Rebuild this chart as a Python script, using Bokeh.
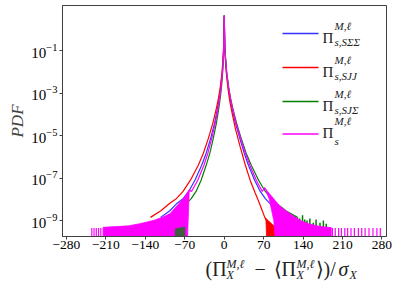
import numpy as np
from bokeh.plotting import figure
from bokeh.layouts import column
from bokeh.models import Range1d, FixedTicker, Label, BoxAnnotation
from bokeh.embed import file_html
from bokeh.resources import INLINE

# ---------------- data (y values are log10 of the PDF) ----------------
red_x  = [-131, -113, -96, -85, -73, -60, -46, -37, -28, -20, -14, -10, -7, -4, -2, -1, 0,
          1, 2, 4, 7, 10, 14, 20, 28, 37, 46, 55, 62, 67, 72, 76, 80]
red_lg = [-8.85, -8.55, -8.17, -7.97, -7.63, -7.10, -6.40, -5.83, -5.12, -4.40, -3.73, -3.21, -2.71, -2.05, -1.33, -0.80, 0.65,
          -0.85, -1.40, -2.15, -2.85, -3.40, -3.95, -4.70, -5.50, -6.35, -7.10, -7.70, -8.15, -8.50, -8.85, -9.05, -9.25]

blue_x  = [-113, -97, -83, -73, -63, -52, -40, -32, -24, -17, -12, -8.6, -6, -3.4, -1.7, -0.86, 0,
           1.05, 2.1, 4.2, 7.2, 10.2, 14, 19.8, 27.5, 35.5, 43, 54, 64, 73, 80, 95, 110]
blue_lg = [-8.85, -8.55, -8.17, -7.97, -7.63, -7.10, -6.40, -5.83, -5.12, -4.40, -3.73, -3.21, -2.71, -2.05, -1.33, -0.80, 0.65,
           -0.80, -1.33, -2.05, -2.71, -3.21, -3.73, -4.40, -5.12, -5.83, -6.40, -7.10, -7.63, -7.97, -8.17, -8.55, -8.85]

green_x  = [-71, -69, -66, -58.6, -50, -41, -32, -25.5, -19.3, -13.8, -9.7, -6.9, -4.8, -2.8, -1.4, -0.7, 0,
            1.1, 2.3, 4.5, 7.8, 11, 15.3, 21.8, 30, 39, 48, 61, 73, 84, 92, 110, 130]
green_lg = [-9.35, -8.67, -8.17, -7.97, -7.63, -7.10, -6.40, -5.83, -5.12, -4.40, -3.73, -3.21, -2.71, -2.05, -1.33, -0.80, 0.65,
            -0.80, -1.33, -2.05, -2.71, -3.21, -3.73, -4.40, -5.12, -5.83, -6.40, -7.10, -7.63, -7.97, -8.17, -8.55, -8.85]

mag_x  = [-62, -58, -47, -36, -29, -22, -15.8, -11, -7.9, -5.5, -3.2, -1.6, -0.8, 0,
          1.1, 2.2, 4.4, 7.6, 10.8, 14.8, 21, 29, 37.5, 45.5, 57, 67.5, 72]
mag_lg = [-7.55, -7.63, -7.10, -6.40, -5.83, -5.12, -4.40, -3.73, -3.21, -2.71, -2.05, -1.33, -0.80, 0.65,
          -0.80, -1.33, -2.05, -2.71, -3.21, -3.73, -4.40, -5.12, -5.83, -6.40, -7.10, -7.63, -7.45]

# noisy tails (outline of the dense histogram region)
mag_left_x  = [-62, -72, -96, -110, -126, -150, -170, -215, -215, -68, -64]
mag_left_lg = [-7.55, -7.95, -8.67, -8.85, -9.00, -9.15, -9.25, -9.32, -12.0, -12.0, -9.0]
mag_right_x  = [72, 76, 90, 100, 115, 135, 150, 170, 190, 190, 97, 88, 80]
mag_right_lg = [-7.45, -7.60, -8.05, -8.35, -8.65, -9.00, -9.15, -9.28, -9.33, -12.0, -12.0, -9.0, -8.0]
mag_spike_x  = [-235, -231, -227, -223, -219, 192, 197, 203, 208, 214, 219, 225, 231, 238, 244, 250, 257, 264, 271, 277]
spike_top_lg = -9.35

red_tail_x  = [74, 80, 86, 92, 94, 94, 78]
red_tail_lg = [-8.90, -9.05, -9.20, -9.30, -9.40, -12.0, -12.0]

green_spike_x  = [126, 130, 134, 139, 143, 147, 152, 158, 163, 170, 176, 181]
green_spike_lg = [-8.80, -8.85, -8.90, -8.75, -8.95, -9.00, -8.90, -9.10, -8.95, -9.10, -9.00, -9.15]
green_left_x  = [-87, -87, -70, -70]
green_left_lg = [-9.40, -12.0, -12.0, -9.30]

x_ticks = [-280, -210, -140, -70, 0, 70, 140, 210, 280]
x_tick_labels = ["\u2212280", "\u2212210", "\u2212140", "\u221270", "0", "70", "140", "210", "280"]
y_ticks = [1e-1, 1e-3, 1e-5, 1e-7, 1e-9]

BLUE, RED, GREEN, MAG = "#3333ff", "#ff0000", "#008000", "#ff00ff"
BOTTOM_LG = -12.0

def P(v):
    return [10.0 ** t for t in v]

SERIF = "Liberation Serif"
INK = "#222222"
W = 399
H_MAIN, H_TITLE = 256, 34
FRAME_L, FRAME_R, FRAME_T, FRAME_B = 62, 386, 5, 236

p = figure(width=W, height=H_MAIN, x_range=Range1d(-287, 288), y_range=Range1d(10 ** -9.75, 10 ** 1.12),
           y_axis_type="log", output_backend="svg", toolbar_location=None,
           min_border_left=FRAME_L, min_border_right=W - FRAME_R, min_border_top=FRAME_T,
           min_border_bottom=H_MAIN - FRAME_B)
p.grid.visible = False
p.outline_line_color = "#404040"
p.background_fill_color = "white"
p.border_fill_color = "white"

for ax in (p.xaxis[0], p.yaxis[0]):
    ax.axis_line_color = "#404040"
    ax.major_tick_line_color = "#404040"
    ax.minor_tick_line_color = None
    ax.major_tick_in = 0
    ax.major_tick_out = 3
    ax.major_label_text_font = SERIF
    ax.major_label_text_color = "black"
p.xaxis.major_label_standoff = 1
p.yaxis.major_label_standoff = 2
p.xaxis.major_label_text_font_size = "13.5px"
p.yaxis.major_label_text_font_size = "15px"

p.xaxis.ticker = FixedTicker(ticks=x_ticks)
p.xaxis.major_label_overrides = {t: l for t, l in zip(x_ticks, x_tick_labels)}
p.yaxis.ticker = FixedTicker(ticks=y_ticks)
p.yaxis.axis_label = "PDF"
p.yaxis.axis_label_text_font = SERIF
p.yaxis.axis_label_text_font_style = "italic"
p.yaxis.axis_label_text_font_size = "17px"
p.yaxis.axis_label_standoff = 1

# ---- curves ----
p.line(blue_x, P(blue_lg), line_color=BLUE, line_width=1.2)
p.line(red_x, P(red_lg), line_color=RED, line_width=1.2)
p.patch(red_tail_x, P(red_tail_lg), fill_color=RED, line_color=RED, line_width=0.8)
p.line(green_x, P(green_lg), line_color=GREEN, line_width=1.2)
p.segment(x0=green_spike_x, y0=[10.0 ** BOTTOM_LG] * len(green_spike_x), x1=green_spike_x, y1=P(green_spike_lg),
          line_color=GREEN, line_width=1.5)
p.line(mag_x, P(mag_lg), line_color=MAG, line_width=1.2)
p.patch(mag_left_x, P(mag_left_lg), fill_color=MAG, line_color=MAG, line_width=0.8)
p.patch(mag_right_x, P(mag_right_lg), fill_color=MAG, line_color=MAG, line_width=0.8)
p.segment(x0=mag_spike_x, y0=[10.0 ** BOTTOM_LG] * len(mag_spike_x), x1=mag_spike_x,
          y1=[10.0 ** spike_top_lg] * len(mag_spike_x), line_color=MAG, line_width=1.2)
p.patch(green_left_x, P(green_left_lg), fill_color="#3d5f3d", line_color="#3d5f3d", line_width=0.8)

# ---- legend (drawn by hand so sub/superscripts stay real text) ----
def sx(X):        # page x -> frame screen x
    return X - FRAME_L
def sy(Y):        # page y -> frame screen y (measured up from frame bottom)
    return FRAME_B - Y

def put(fig, txt, X, Yc, size, style, xf=sx, yf=sy):
    fig.add_layout(Label(x=xf(X), y=yf(Yc), x_units="screen", y_units="screen", text=txt,
                         text_font=SERIF, text_font_style=style, text_font_size=size,
                         text_baseline="middle", text_align="left", text_color=INK))

legend_colors = [BLUE, RED, GREEN, MAG]
legend_subs = ["s,S\u03a3\u03a3", "s,SJJ", "s,SJ\u03a3", "s"]
legend_line_y = [33, 67, 101, 133.5]
for c, sub, yl in zip(legend_colors, legend_subs, legend_line_y):
    p.add_layout(BoxAnnotation(left=sx(282), right=sx(318), top=sy(yl) + 0.7, bottom=sy(yl) - 0.7,
                               left_units="screen", right_units="screen", top_units="screen", bottom_units="screen",
                               fill_color=c, fill_alpha=1.0, line_color=None))
    short = (sub == "s")
    dy = -5.5 if short else 0.0
    put(p, "\u03a0", 322, yl + 4 + dy, "15px", "normal")
    put(p, "M,\u2113", 334, yl - 7.5 + dy, "11px", "italic")
    put(p, sub, 334, yl + 8 + (dy + 4.5 if short else 0), "11px", "italic")

# ---- x axis title in its own strip: (Π_X^{M,ℓ} − ⟨Π_X^{M,ℓ}⟩)/σ_X ----
q = figure(width=W, height=H_TITLE, x_range=Range1d(0, 1), y_range=Range1d(0, 1),
           output_backend="svg", toolbar_location=None, x_axis_location=None, y_axis_location=None,
           min_border=0)
q.grid.visible = False
q.outline_line_color = None
q.background_fill_color = "white"
q.border_fill_color = "white"

def tx(X):
    return X
def ty(Y):        # page y -> strip screen y
    return (H_MAIN + H_TITLE) - Y

MAIN_C, SUP_C, SUB_C = 268.0, 263.5, 274.5
pieces = [
    ("(\u03a0", 143, MAIN_C, "20px", "normal"),
    ("M,\u2113", 164, SUP_C, "12px", "italic"),
    ("X", 164, SUB_C, "12px", "italic"),
    ("\u2212", 192, MAIN_C, "20px", "normal"),
    ("\u27e8\u03a0", 211, MAIN_C, "20px", "normal"),
    ("M,\u2113", 234, SUP_C, "12px", "italic"),
    ("X", 234, SUB_C, "12px", "italic"),
    ("\u27e9)/", 253, MAIN_C, "20px", "normal"),
    ("\u03c3", 276, MAIN_C, "20px", "italic"),
    ("X", 287, SUB_C, "12px", "italic"),
]
for txt, X, Yc, fs, st in pieces:
    put(q, txt, X, Yc, fs, st, xf=tx, yf=ty)

open("out.html", "w").write(file_html(column(p, q, spacing=0), INLINE))
